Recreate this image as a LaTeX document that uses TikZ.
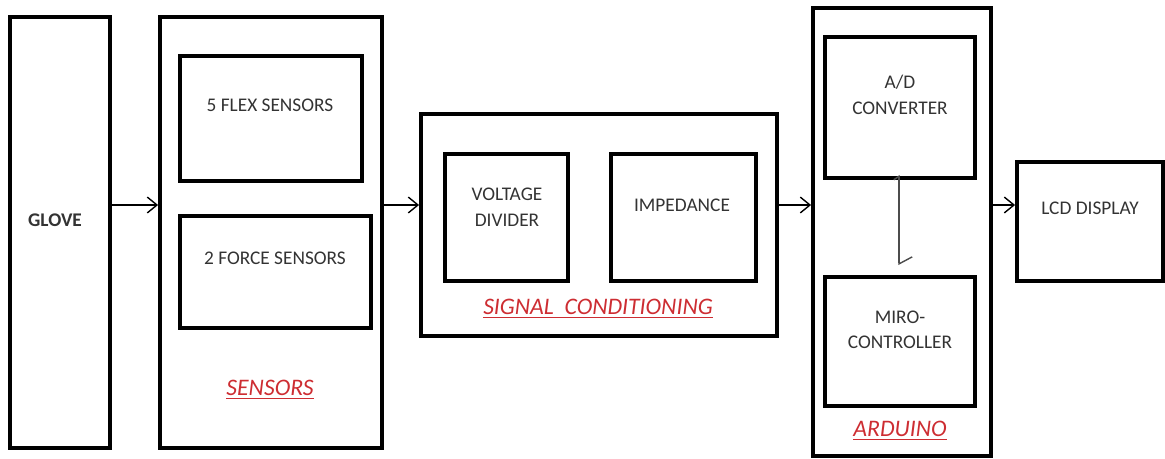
\documentclass[tikz,border=0pt]{standalone}
\usepackage{fontspec}
\setmainfont{Carlito}
\usetikzlibrary{arrows.meta}
\definecolor{titlered}{RGB}{205,45,50}

\begin{document}
\begin{tikzpicture} [
            x=0.02cm, y=-0.02cm,
            block/.style = {draw,line width=2.2pt,inner sep=0pt},
            caption/.style = {font=\fontsize{11}{14.5}\selectfont,text=black!80,align=center},
            title/.style = {font=\fontsize{13.5}{15}\selectfont\itshape,text=titlered},
            flow/.style = {draw,line width=0.8pt,-{Straight Barb[length=5.5pt,width=9pt]}},
            link/.style = {draw,line width=0.8pt,black!70,
                {Straight Barb[left,length=2pt,width=6pt]}-{Straight Barb[left,length=4pt,width=15pt]}},
        ]
        \useasboundingbox (0,0) rectangle (1165,459);
        % First we draw the blocks
        \foreach \name/\xa/\ya/\xb/\yb in {
                % glove and sensors
                glove/10/17/110/448,
                sens/160/17/382/448,
                flex/180/56/362/181,
                force/180/216/371/328,
                % signal conditioning
                cond/421/114/777/336,
                vdiv/445/154/568/281,
                imp/611/154/756/281,
                % arduino
                ard/813/8/991/456,
                adc/825/37/975/178,
                mcu/825/277/975/406,
                % display
                lcd/1017/162/1163/281}
            \node[block,minimum width={(\xb-\xa)*0.02cm},minimum height={(\yb-\ya)*0.02cm}]
                (\name) at ({(\xa+\xb)/2},{(\ya+\yb)/2}) {};
        % Texts inside the blocks
        \node[caption] (gloveT) at (55,220) {\bfseries GLOVE};
        \node[caption] (flexT) at (270,105) {5 FLEX SENSORS};
        \node[caption] (forceT) at (275,258) {2 FORCE SENSORS};
        \node[caption] (vdivT) at (507,207) {VOLTAGE\\DIVIDER};
        \node[caption] (impT) at (682,205) {IMPEDANCE};
        \node[caption] (adcT) at (900,95) {A/D\\CONVERTER};
        \node[caption] (mcuT) at (900,330) {MIRO-\\CONTROLLER};
        \node[caption] (lcdT) at (1090,208) {LCD DISPLAY};
        % Group titles
        \node[title] (sensT) at (270,390) {\underline{SENSORS}};
        \node[title] (condT) at (598,309) {\underline{SIGNAL\ \ CONDITIONING}};
        \node[title] (ardT) at (900,431) {\underline{ARDUINO}};
        % Connect blocks with arrows
        \coordinate (lane) at (0,205);
        \foreach \source/\dest in {glove/sens,sens/cond,cond/ard,ard/lcd}
            \path[flow] (\source.east |- lane) -- (\dest.west |- lane);
        \path[link] ([xshift=-0.02cm,yshift=0.1cm]adc.south) -- ([xshift=-0.02cm,yshift=0.2cm]mcu.north);
    \end{tikzpicture}
\end{document}
